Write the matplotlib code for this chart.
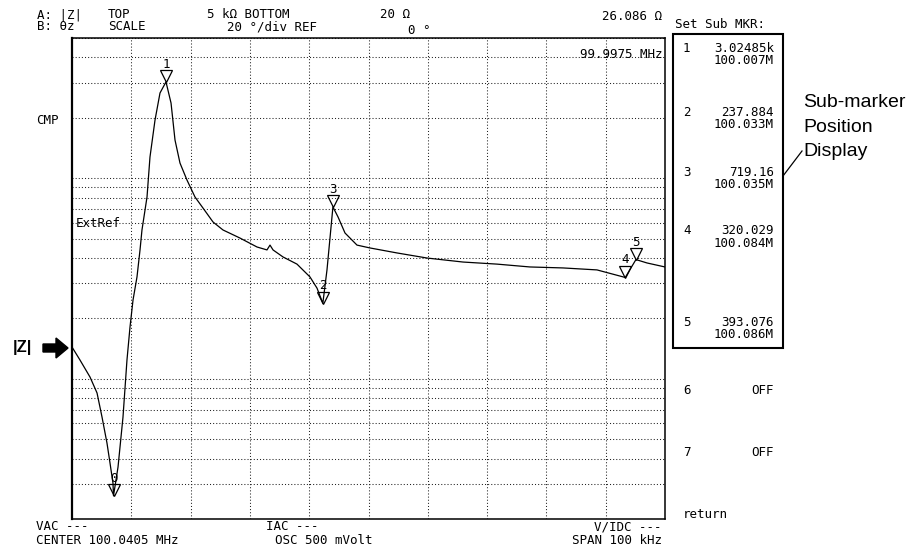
import matplotlib
matplotlib.use("Agg")
import matplotlib.pyplot as plt
import matplotlib.transforms as mtrans
from matplotlib.patches import Rectangle, Polygon
from matplotlib.lines import Line2D
from matplotlib.ticker import LogLocator

# ---- data (span 100 kHz, |Z| log 20 ohm .. 5 kohm) ----
khz = [0, 1.35, 3.04, 4.22, 5.06, 5.90, 6.41, 6.91, 7.0, 7.76,
       8.60, 9.27, 9.78, 10.29, 10.96, 11.47, 11.80, 12.65, 13.15, 14.0,
       14.84, 15.85, 16.7, 17.37, 18.21, 19.39, 20.74, 22.09, 23.78, 25.46,
       28.33, 31.2, 32.88, 33.39, 33.9, 35.58, 37.94, 40.13, 41.32, 42.3,
       43.0, 44.0, 44.86, 46.04, 48.06, 50.25, 54.81, 59.87, 65.94, 71.67,
       77.23, 82.8, 88.53, 93.3, 95.1, 96.96, 100]
zmag = [144, 124, 102, 85, 64.5, 47.8, 38, 30.2, 26.1, 36.3,
        64.5, 124, 181, 247, 322, 439, 552, 806, 1275, 1950,
        2660, 3020, 2370, 1550, 1190, 979, 806, 710, 605, 552,
        503, 454, 439, 464, 439, 405, 373, 322, 283, 238,
        349, 719, 641, 533, 464, 449, 424, 400, 382, 373,
        361, 357, 349, 320, 393, 378, 361]

mk_labels = ["0", "1", "2", "3", "4", "5"]
mk_khz = [7.0, 15.85, 42.3, 44.0, 93.3, 95.1]
mk_z = [26.1, 3020, 238, 719, 320, 393]

sub_ids = ["1", "2", "3", "4", "5"]
sub_vals = ["3.02485k", "237.884", "719.16", "320.029", "393.076"]
sub_freqs = ["100.007M", "100.033M", "100.035M", "100.084M", "100.086M"]

W, H = 919, 550
MONO = "DejaVu Sans Mono"
FS = 9


def fx(x):
    return x / W


def fy(y):
    return 1 - y / H


fig = plt.figure(figsize=(W / 100, H / 100), dpi=100)
ax = fig.add_axes([fx(72), fy(519), (665 - 72) / W, (519 - 38) / H])
ax.plot(khz, zmag, color="black", lw=0.9)
ax.set_xlim(0, 100)
ax.set_yscale("log")
ax.set_ylim(20, 5000)
ax.set_xticks(range(10, 100, 10))
ax.yaxis.set_major_locator(LogLocator(base=10, subs=range(1, 10)))
ax.yaxis.set_minor_locator(LogLocator(base=10, subs=[]))
ax.grid(True, which="major", ls=(0, (1, 2)), lw=0.75, color="#222")
ax.tick_params(which="both", length=0, labelleft=False, labelbottom=False)
for s in ax.spines.values():
    s.set_linewidth(1.1)
ax.spines["left"].set_linewidth(1.6)

# markers: open triangles with tip on the trace, number above
tri = mtrans.offset_copy(ax.transData, fig=fig, x=0, y=5.5, units="dots")
for lab, f, z in zip(mk_labels, mk_khz, mk_z):
    ax.plot(f, z, marker="v", ms=8, mfc="none", mec="black", mew=0.9,
            transform=tri, clip_on=False)
    ax.annotate(lab, (f, z), xytext=(0, 14), textcoords="offset pixels",
                ha="center", va="baseline", family=MONO, fontsize=FS)


def t(x, y, s, ha="left", **kw):
    kw.setdefault("family", MONO)
    kw.setdefault("fontsize", FS)
    fig.text(fx(x), fy(y + 4.5), s, ha=ha, va="baseline", **kw)


# header
t(37, 14, "A: |Z|")
t(37, 26, "B: θz")
t(108, 14, "TOP")
t(108, 26, "SCALE")
t(207, 14, "5 kΩ BOTTOM")
t(227, 26, "20 °/div REF")
t(380, 14, "20 Ω")
t(408, 29, "0 °")
t(662, 15, "26.086 Ω", ha="right")
t(675, 23, "Set Sub MKR:")
t(663, 53, "99.9975 MHz", ha="right")
t(36, 119, "CMP")
t(76, 223, "ExtRef")

# footer
t(36, 526, "VAC ---")
t(36, 539, "CENTER 100.0405 MHz")
t(266, 526, "IAC ---")
t(275, 539, "OSC 500 mVolt")
t(662, 526, "V/IDC ---", ha="right")
t(662, 539, "SPAN 100 kHz", ha="right")

# sub-marker box
fig.add_artist(Rectangle((fx(673), fy(348)), (783 - 673) / W, (348 - 34) / H,
                         transform=fig.transFigure, fill=False, lw=1.5, ec="black"))
id_rows = [47, 111, 171, 229, 321]
for sid, val, fq, yr in zip(sub_ids, sub_vals, sub_freqs, id_rows):
    t(683, yr, sid)
    t(774, yr, val, ha="right")
    t(774, yr + 13, fq, ha="right")
t(683, 390, "6")
t(774, 390, "OFF", ha="right")
t(683, 452, "7")
t(774, 452, "OFF", ha="right")
t(683, 513, "return")

# callout
for yy, s in zip([100, 125, 149], ["Sub-marker", "Position", "Display"]):
    fig.text(fx(803), fy(yy + 7), s, ha="left", va="baseline",
             family="Liberation Sans", fontsize=14)
fig.add_artist(Line2D([fx(783), fx(802)], [fy(176), fy(151)],
                      transform=fig.transFigure, color="black", lw=0.9))

# |Z| reference arrow
fig.text(fx(13), fy(352), "|Z|", ha="left", va="baseline",
         family="Liberation Sans", fontweight="bold", fontsize=12)
arrow = [(43, 344), (56, 344), (56, 338), (68, 348), (56, 358), (56, 352), (43, 352)]
fig.add_artist(Polygon([(fx(x), fy(y)) for x, y in arrow], closed=True,
                       transform=fig.transFigure, fc="black", ec="black"))

fig.savefig("out.png", dpi=100)
